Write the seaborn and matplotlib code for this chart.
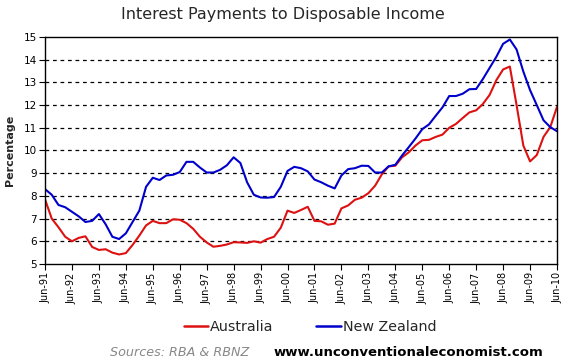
import numpy as np
import pandas as pd
import matplotlib
matplotlib.use("Agg")
import matplotlib.pyplot as plt
import seaborn as sns
from matplotlib.lines import Line2D

# Quarterly observations, Jun-91 .. Jun-10
years = [f"{y:02d}" for y in list(range(91, 100)) + list(range(0, 11))]
tick_labels = [f"Jun-{y}" for y in years]

australia = [
    7.85, 7.00, 6.62, 6.20, 6.00, 6.15, 6.22, 5.75, 5.62, 5.65, 5.50, 5.42,
    5.48, 5.84, 6.25, 6.70, 6.90, 6.80, 6.80, 6.97, 6.95, 6.80, 6.55, 6.20,
    5.95, 5.76, 5.80, 5.86, 5.96, 5.95, 5.93, 6.00, 5.94, 6.10, 6.20, 6.60,
    7.35, 7.25, 7.38, 7.52, 6.90, 6.88, 6.73, 6.78, 7.45, 7.58, 7.83, 7.92,
    8.12, 8.45, 8.95, 9.30, 9.33, 9.70, 9.92, 10.22, 10.45, 10.47, 10.60, 10.70,
    11.00, 11.17, 11.43, 11.68, 11.77, 12.05, 12.45, 13.10, 13.57, 13.70, 12.00, 10.22,
    9.52, 9.80, 10.60, 11.03, 11.92,
]
new_zealand = [
    8.30, 8.05, 7.60, 7.50, 7.30, 7.10, 6.85, 6.90, 7.20, 6.75, 6.20, 6.10,
    6.35, 6.85, 7.35, 8.40, 8.80, 8.70, 8.90, 8.93, 9.05, 9.50, 9.50, 9.25,
    9.03, 9.03, 9.15, 9.35, 9.70, 9.45, 8.60, 8.05, 7.93, 7.92, 7.95, 8.40,
    9.10, 9.28, 9.22, 9.08, 8.72, 8.60, 8.45, 8.33, 8.90, 9.18, 9.22, 9.33,
    9.32, 9.03, 9.03, 9.30, 9.37, 9.78, 10.15, 10.53, 10.94, 11.15, 11.53, 11.90,
    12.40, 12.40, 12.50, 12.70, 12.71, 13.15, 13.64, 14.13, 14.70, 14.89, 14.45, 13.48,
    12.66, 12.00, 11.33, 11.03, 10.85,
]
series_names = ["Australia", "New Zealand"]
colors = {"Australia": "#DD1111", "New Zealand": "#0000CC"}

quarters = np.arange(len(australia))
df = pd.DataFrame({
    "quarter": np.concatenate([quarters, quarters]),
    "value": australia + new_zealand,
    "country": ["Australia"] * len(australia) + ["New Zealand"] * len(new_zealand),
})

sns.set_theme(style="white")
plt.rcParams["font.family"] = ["DejaVu Sans"]

fig = plt.figure(figsize=(5.66, 3.64), dpi=100)
ax = fig.add_axes([45 / 566, 1 - 264 / 364, 512 / 566, 227 / 364])

sns.lineplot(data=df, x="quarter", y="value", hue="country", palette=colors,
             linewidth=1.5, legend=False, ax=ax)

ax.set_xlim(0, len(australia) - 1)
ax.set_ylim(5, 15)
ax.set_yticks(range(5, 16))
ax.set_xticks(np.arange(0, len(australia), 4))
ax.set_xticklabels(tick_labels, rotation=90, fontsize=7)
ax.tick_params(axis="y", labelsize=7.5, length=4, width=0.8, direction="out",
               left=True, pad=2, colors="black")
ax.tick_params(axis="x", length=4, width=0.8, direction="out", bottom=True,
               pad=2, colors="black")
for s in ax.spines.values():
    s.set_visible(True)
    s.set_color("black")
    s.set_linewidth(1.0)

for v in range(6, 15):
    ax.axhline(v, color="black", linestyle=(0, (3, 3)), linewidth=0.9, zorder=0)

ax.set_xlabel("")
ax.set_ylabel("Percentage", fontsize=8, fontweight="bold", labelpad=6)

fig.text(0.5, 1 - 15 / 364, "Interest Payments to Disposable Income",
         ha="center", va="center", fontsize=11.5)

handles = [Line2D([0], [0], color=colors[n], linewidth=1.8) for n in series_names]
fig.legend(handles, series_names, loc="center", bbox_to_anchor=(310 / 566, 1 - 327 / 364),
           ncol=2, frameon=False, fontsize=10.3, handlelength=1.7,
           handletextpad=0.15, columnspacing=3.0, borderpad=0, borderaxespad=0)

fig.text(110 / 566, 1 - 352 / 364, "Sources: RBA & RBNZ", ha="left", va="center",
         fontsize=9.2, style="italic", color="#888888")
fig.text(543 / 566, 1 - 352 / 364, "www.unconventionaleconomist.com", ha="right",
         va="center", fontsize=9.5, fontweight="bold", color="black")

fig.savefig("out.png", dpi=100, facecolor="white")
